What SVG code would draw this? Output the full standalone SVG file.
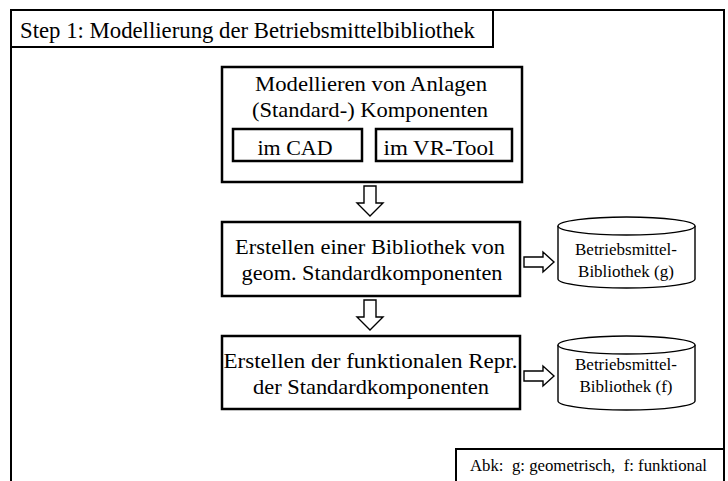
<svg xmlns="http://www.w3.org/2000/svg" width="728" height="481" viewBox="0 0 728 481">
<style>
text{font-family:"Liberation Serif","Times New Roman",serif;fill:#000}
.t{font-size:22px;text-anchor:middle}
.s{font-size:17px;text-anchor:middle}
.box{fill:#fff;stroke:#000;stroke-width:2.5}
.frame{fill:none;stroke:#000;stroke-width:2}
.arr{fill:#fff;stroke:#000;stroke-width:1.4;stroke-linejoin:miter}
.cyl{fill:#fff;stroke:#000;stroke-width:1.4}
</style>
<rect width="728" height="481" fill="#fff"/>
<g id="frame">
<path class="frame" d="M11,481 V10 H724 V449"/>
</g>
<g id="title">
<rect class="frame" x="11" y="10" width="482" height="37"/>
<text x="20" y="38" font-size="23" textLength="455" lengthAdjust="spacingAndGlyphs">Step 1: Modellierung der Betriebsmittelbibliothek</text>
</g>
<g id="modellieren">
<rect class="box" x="222" y="67" width="300" height="115"/>
<text class="t" x="371" y="91" textLength="232" lengthAdjust="spacingAndGlyphs">Modellieren von Anlagen</text>
<text class="t" x="370" y="117" textLength="236" lengthAdjust="spacingAndGlyphs">(Standard-) Komponenten</text>
</g>
<g id="cad">
<rect class="box" x="233" y="129" width="129" height="32"/>
<text class="t" x="295" y="155" textLength="75" lengthAdjust="spacingAndGlyphs">im CAD</text>
</g>
<g id="vrtool">
<rect class="box" x="376" y="129" width="136" height="32"/>
<text class="t" x="439" y="155" textLength="111" lengthAdjust="spacingAndGlyphs">im VR-Tool</text>
</g>
<g id="bibliothek">
<rect class="box" x="222" y="222" width="298" height="74"/>
<text class="t" x="370" y="254" textLength="270" lengthAdjust="spacingAndGlyphs">Erstellen einer Bibliothek von</text>
<text class="t" x="372" y="280" textLength="261" lengthAdjust="spacingAndGlyphs">geom. Standardkomponenten</text>
</g>
<g id="funktional">
<rect class="box" x="222" y="336" width="298" height="73"/>
<text class="t" x="370.5" y="368" textLength="294" lengthAdjust="spacingAndGlyphs">Erstellen der funktionalen Repr.</text>
<text class="t" x="371" y="394" textLength="236" lengthAdjust="spacingAndGlyphs">der Standardkomponenten</text>
</g>
<g id="db-g">
<path class="cyl" d="M558,226 V279 A68.5,9 0 0 0 695,279 V226"/>
<ellipse class="cyl" cx="626.5" cy="226" rx="68.5" ry="9"/>
<text class="s" x="626" y="255">Betriebsmittel-</text>
<text class="s" x="626" y="277">Bibliothek (g)</text>
</g>
<g id="db-f">
<path class="cyl" d="M558,345 V401 A68.5,9 0 0 0 695,401 V345"/>
<ellipse class="cyl" cx="626.5" cy="345" rx="68.5" ry="9"/>
<text class="s" x="626" y="370">Betriebsmittel-</text>
<text class="s" x="626" y="392">Bibliothek (f)</text>
</g>
<g id="legend">
<rect class="frame" x="456" y="449" width="268" height="40"/>
<text x="470" y="471" font-size="16" textLength="237" lengthAdjust="spacingAndGlyphs" xml:space="preserve">Abk:  g: geometrisch,  f: funktional</text>
</g>
<g id="connectors">
<path class="arr" d="M364,186 H376 V203 H383 L370,216 L357,203 H364 Z"/>
<path class="arr" d="M364,300 H376 V317 H383 L370,330 L357,317 H364 Z"/>
<path class="arr" d="M524,257 H543 V252 L554,262 L543,272 V267 H524 Z"/>
<path class="arr" d="M524,371 H543 V366 L554,376 L543,386 V381 H524 Z"/>
</g>
</svg>
